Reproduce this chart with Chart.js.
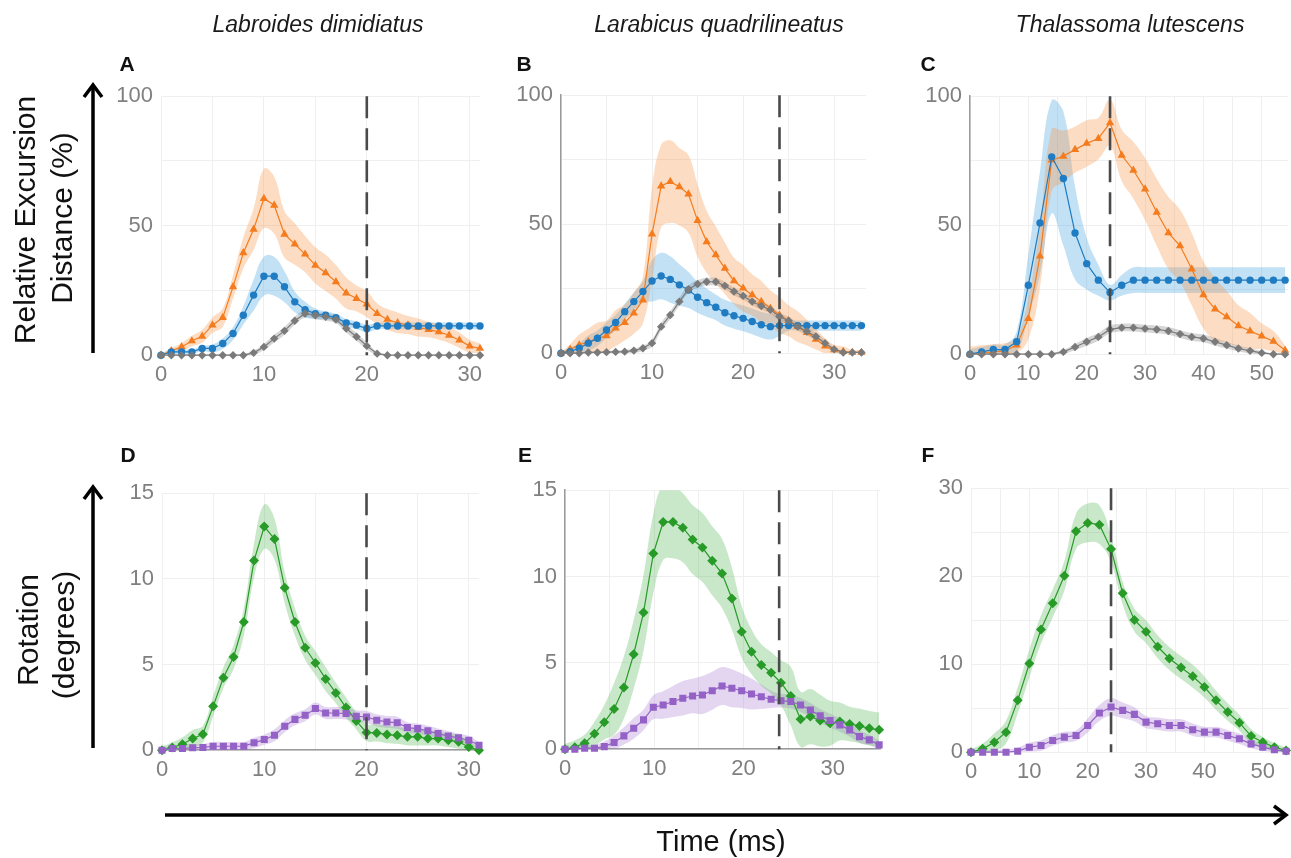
<!DOCTYPE html>
<html>
<head>
<meta charset="utf-8">
<title>Excursion et rotation</title>
<script src="https://cdn.jsdelivr.net/npm/chart.js@4.4.1/dist/chart.umd.min.js"></script>
<style>
body{margin:0;background:#fff}
#figure{position:relative;width:1291px;height:858px;overflow:hidden;background:#fff}
#figure canvas{position:absolute}
#annotations{position:absolute;left:0;top:0;font-family:"Liberation Sans",Arial,sans-serif}
</style>
</head>
<body>
<div id="figure">
  <canvas id="A"></canvas>
  <canvas id="B"></canvas>
  <canvas id="C"></canvas>
  <canvas id="D"></canvas>
  <canvas id="E"></canvas>
  <canvas id="F"></canvas>
  <svg id="annotations" width="1291" height="858">
    <g font-size="23" font-style="italic" fill="#1a1a1a" text-anchor="middle">
      <text x="318" y="32">Labroides dimidiatus</text>
      <text x="719" y="32">Larabicus quadrilineatus</text>
      <text x="1130" y="32">Thalassoma lutescens</text>
    </g>
    <g font-size="21" font-weight="bold" fill="#111" text-anchor="middle">
      <text x="127" y="71">A</text>
      <text x="524" y="71">B</text>
      <text x="928" y="71">C</text>
      <text x="128" y="462">D</text>
      <text x="525" y="462">E</text>
      <text x="928" y="462">F</text>
    </g>
    <g font-size="30" fill="#111" text-anchor="middle">
      <text transform="translate(35,220) rotate(-90)">Relative Excursion</text>
      <text transform="translate(72,218) rotate(-90)">Distance (%)</text>
      <text transform="translate(38,630) rotate(-90)">Rotation</text>
      <text transform="translate(74,635) rotate(-90)">(degrees)</text>
      <text x="721" y="851" font-size="29">Time (ms)</text>
    </g>
    <g stroke="#000" stroke-width="3.5" fill="none">
      <line x1="93" y1="353" x2="93" y2="85"/>
      <polyline points="84,97 93,85 102,97"/>
      <line x1="93" y1="748" x2="93" y2="487"/>
      <polyline points="84,499 93,487 102,499"/>
      <line x1="165" y1="815" x2="1286" y2="815"/>
      <polyline points="1274,806 1286,815 1274,824"/>
    </g>
  </svg>
</div>
<script>
// temps (ms)
const tempsA=[0,1,2,3,4,5,6,7,8,9,10,11,12,13,14,15,16,17,18,19,20,21,22,23,24,25,26,27,28,29,30,31]
const tempsB=[0,1,2,3,4,5,6,7,8,9,10,11,12,13,14,15,16,17,18,19,20,21,22,23,24,25,26,27,28,29,30,31,32,33]
const tempsC=[0,2,4,6,8,10,12,14,16,18,20,22,24,26,28,30,32,34,36,38,40,42,44,46,48,50,52,54]
const tempsD=tempsA
const tempsE=[0,1.1,2.2,3.3,4.4,5.5,6.6,7.7,8.8,9.9,11,12.1,13.2,14.3,15.4,16.5,17.6,18.7,19.8,20.9,22,23.1,24.2,25.3,26.4,27.5,28.6,29.7,30.8,31.9,33,34.1,35.2]
const tempsF=tempsC

// A - Labroides dimidiatus, excursion (%)
const orangeA=[0,1.7,3.2,5.5,7.3,11.6,14.5,26.4,39.5,48.6,60.5,57.9,46.7,42.9,39,34.7,31.8,28.3,24,21.9,19.7,16.1,13.8,12.5,11.6,10.7,9.9,9,7.7,5.8,3.5,2.6]
const orangeA_sd=[0.5,1,1.5,2,2.5,3,3.5,4.5,6,8,11.5,11,9,8,7,7,7,6.5,6,5,5,4,4,4,3.5,3.5,3,3,3,3,2.5,2]
const bleuA=[0,1.3,1.3,1.3,2.6,2.6,4.5,8.4,15.4,23.2,30.5,30.5,26.4,20.6,17.6,16,15.4,14.5,12.5,11.6,10.3,11.3,11.3,11.3,11.3,11.3,11.3,11.3,11.3,11.3,11.3,11.3]
const bleuA_sd=[0.5,1,1,1,1,1.5,2,2.5,3.5,6,7.5,7.5,6,4,3,2,1.5,1.5,1.5,1.5,1.5,1.3,1.3,1.3,1.3,1.3,1.3,1.3,1.3,1.3,1.3,1.3]
const grisA=[0,0,0,0,0,0,0,0,0,0.9,3.2,6.4,9.4,13.3,16.1,15.4,14.8,13.8,10.3,7.1,3.6,0.6,0,0,0,0,0,0,0,0,0,0]
const grisA_sd=[0.3,0.3,0.3,0.3,0.3,0.3,0.3,0.3,0.5,0.8,1.2,1.5,1.5,1.5,1.5,1.5,1.5,1.5,1.5,1.5,1.3,0.8,0.3,0.3,0.3,0.3,0.3,0.3,0.3,0.3,0.3,0.3]

// B - Larabicus quadrilineatus
const orangeB=[0,1.5,3.2,4.5,5.8,6.7,9.7,11.9,15.5,20.6,46.2,64.8,66.5,64.5,61.7,51.4,43.2,38.1,32.9,28,25.2,22.6,20,17.4,14.8,12.6,10.3,8,5.4,2.8,1.3,0.6,0.3,0.3]
const orangeB_sd=[0.5,2,4,5,6,6,7,7,8,9,18,16,16,15,15,14,12,11,10,9,9,8,8,7,7,6,6,5,4,3,2,2,1,1]
const bleuB=[0,0.6,1.9,3.9,5.8,9,11.9,16.1,20,23.9,28,29.9,28.6,26.5,24.5,21.7,19.6,17.8,15.7,14.5,13.5,12.3,11,10.3,10.7,10.7,10.7,10.7,10.7,10.7,10.7,10.7,10.7,10.7]
const bleuB_sd=[0.5,1.5,2,3,3,3,3,3,3.5,4,8,9,9,8,7,6,5.5,5,5,5,5,5,5,5,4,2,2,2,2,2,2,2,2,2]
const grisB=[0,0,0,0.3,0.3,0.4,0.5,0.6,1,1.9,3.9,10.3,14.8,20,24.8,26.8,27.7,27.7,26.1,23.9,22.2,20,18.3,16.8,14.2,12.6,10.3,8.4,6.5,3.9,1.5,0.3,0.3,0.3]
const grisB_sd=[0.3,0.3,0.3,0.4,0.4,0.5,0.5,0.6,0.8,1,1.3,1.5,1.5,1.5,1.5,1.5,1.5,1.5,1.5,1.5,1.5,1.5,1.5,1.5,1.5,1.5,1.5,1.5,1.5,1.3,1,0.5,0.3,0.3]

// C - Thalassoma lutescens
const orangeC=[0,0.5,0.9,1.3,3.5,13.8,38,75.2,76.7,79.3,81.7,83.6,89.7,77.1,71.3,64,55,47,42,33,23,17.5,14.5,11,9,7,5,1.5]
const orangeC_sd=[3,3,3,3,3,8,12,12,10,9,9,8,9,10,11,12,13,14,14,14,13,12,10,8,7,5,4,2]
const bleuC=[0,0.9,1.8,1.8,4.8,26.7,50.9,76.5,68.1,47,35.1,28.7,23.9,26.7,28.7,28.7,28.7,28.7,28.7,28.7,28.7,28.7,28.7,28.7,28.7,28.7,28.7,28.7]
const bleuC_sd=[2,2,2,2,4,12,20,22,26,18,10,6,3,4,5,5,5,5,5,5,5,5,5,5,5,5,5,5]
const grisC=[0,0,0,0,0,0,0,0,0.9,2.8,4.8,6.7,9.6,10.3,10.3,9.9,9.6,9,7.8,6.7,6.1,4.8,3.5,2.2,1.3,0.5,0,0]
const grisC_sd=[0.3,0.3,0.3,0.3,0.3,0.3,0.3,0.5,0.8,1.2,1.5,1.5,1.5,1.5,1.5,1.5,1.5,1.5,1.5,1.5,1.5,1.5,1.3,1.2,1,0.6,0.3,0.3]

// D - Labroides dimidiatus, rotation (degres)
const vertD=[0,0.16,0.35,0.68,0.93,2.56,4.23,5.44,7.48,11.07,13.05,12.33,9.48,7.48,5.98,5.09,4.16,3.34,2.49,1.71,1.03,1.01,0.91,0.87,0.78,0.78,0.68,0.68,0.58,0.49,0.19,0]
const vertD_sd=[0.2,0.3,0.4,0.5,0.5,0.6,0.6,0.7,0.8,1,1.3,1.2,0.9,0.8,0.7,0.7,0.7,0.6,0.6,0.5,0.5,0.5,0.5,0.5,0.5,0.5,0.4,0.4,0.4,0.4,0.3,0.2]
const violetD=[0,0.1,0.1,0.14,0.16,0.23,0.23,0.23,0.23,0.43,0.62,0.87,1.4,1.8,2.04,2.43,2.17,2.17,2.14,1.98,1.94,1.75,1.65,1.6,1.32,1.26,1.13,0.97,0.82,0.72,0.58,0.29]
const violetD_sd=[0.1,0.15,0.2,0.2,0.2,0.25,0.25,0.25,0.25,0.3,0.3,0.35,0.35,0.35,0.35,0.35,0.35,0.35,0.35,0.35,0.35,0.35,0.35,0.35,0.3,0.3,0.3,0.3,0.3,0.25,0.25,0.2]

// E - Larabicus quadrilineatus
const vertE=[0,0.12,0.35,0.89,1.56,2.33,3.58,5.5,7.91,11.33,13.16,13.16,12.83,12.14,11.68,10.91,10.17,8.73,6.8,5.65,4.88,4.43,3.85,3.08,1.73,1.89,1.66,1.5,1.6,1.46,1.35,1.21,1.12]
const vertE_sd=[0.3,0.4,0.5,0.7,1,1.5,1.8,2,2.2,2.3,2.2,2.1,2,2,2,2,2,1.8,1.5,1.3,1.2,1.2,1.3,1.7,1.6,1.6,1.5,1.3,1.1,1,1,1,1]
const violetE=[0,0,0.06,0.06,0.15,0.39,0.77,1.21,1.7,2.43,2.56,2.76,2.95,3.08,3.14,3.39,3.66,3.53,3.39,3.2,3.04,2.89,2.81,2.76,2.56,2.27,1.93,1.66,1.41,1.12,0.73,0.54,0.25]
const violetE_sd=[0.05,0.1,0.15,0.2,0.3,0.4,0.5,0.6,0.6,0.7,0.8,0.9,1,1,1.1,1.1,1.1,1.1,1,0.9,0.7,0.5,0.4,0.4,0.4,0.4,0.4,0.4,0.4,0.4,0.35,0.3,0.25]

// F - Thalassoma lutescens
const vertF=[0,0.38,1.14,2.28,5.89,10.08,13.95,16.92,20.04,25.1,26.05,25.86,23.08,18.06,15.02,13.69,11.98,10.65,9.62,8.63,7.41,5.89,4.56,3.35,1.83,1.14,0.57,0.19]
const vertF_sd=[0.3,0.6,1,1.3,1.5,1.6,1.6,1.6,1.7,2,2.2,2.2,1.5,1.3,1.3,1.3,1.3,1.3,1.3,1.3,1.2,1.1,1,0.9,0.8,0.6,0.5,0.3]
const violetF=[0,0,0,0,0.11,0.57,0.76,1.33,1.71,1.9,3.04,4.45,5.13,4.75,4.3,3.42,3.23,3.04,3.04,2.55,2.28,2.28,1.9,1.52,0.95,0.57,0.27,0.11]
const violetF_sd=[0.2,0.2,0.2,0.3,0.4,0.5,0.6,0.6,0.6,0.6,0.8,0.9,1,0.9,0.8,0.7,0.7,0.7,0.7,0.7,0.6,0.6,0.6,0.6,0.5,0.4,0.3,0.2]

// graduations
const etiquettesX_AB=[0,10,20,30]
const etiquettesX_C=[0,10,20,30,40,50]
const etiquettesY_haut=[0,50,100]
const etiquettesY_DE=[0,5,10,15]
const etiquettesY_F=[0,10,20,30]
const finAcces=[20,24,24,20,24,24]

const styles={
    orange:{couleur:"#f47c1e",bande:"rgba(247,150,70,0.33)",forme:"triangle",rayon:4.8},
    bleu:{couleur:"#1f7cc2",bande:"rgba(70,165,225,0.33)",forme:"circle",rayon:3.7},
    gris:{couleur:"#7a7a7a",bande:"rgba(130,130,130,0.33)",forme:"rectRot",rayon:4.2},
    vert:{couleur:"#279a27",bande:"rgba(75,180,75,0.3)",forme:"rectRot",rayon:5},
    violet:{couleur:"#9462c6",bande:"rgba(165,120,210,0.3)",forme:"rect",rayon:5}
}

const panneaux=[
    {id:"A",cadre:[161,96,480,355],xMax:31,yMax:100,grilleX:5,grilleY:25,etiqX:etiquettesX_AB,etiqY:etiquettesY_haut,bord:[false,false],
     series:[[tempsA,orangeA,orangeA_sd,"orange"],[tempsA,bleuA,bleuA_sd,"bleu"],[tempsA,grisA,grisA_sd,"gris"]]},
    {id:"B",cadre:[561,95,866,353],xMax:33.5,yMax:100,grilleX:5,grilleY:25,etiqX:etiquettesX_AB,etiqY:etiquettesY_haut,bord:[false,true],
     series:[[tempsB,orangeB,orangeB_sd,"orange"],[tempsB,bleuB,bleuB_sd,"bleu"],[tempsB,grisB,grisB_sd,"gris"]]},
    {id:"C",cadre:[970,96,1288,354],xMax:54.5,yMax:100,grilleX:5,grilleY:25,etiqX:etiquettesX_C,etiqY:etiquettesY_haut,bord:[false,true],
     series:[[tempsC,orangeC,orangeC_sd,"orange"],[tempsC,bleuC,bleuC_sd,"bleu"],[tempsC,grisC,grisC_sd,"gris"]]},
    {id:"D",cadre:[162,493,479,750],xMax:31,yMax:15,grilleX:5,grilleY:5,etiqX:etiquettesX_AB,etiqY:etiquettesY_DE,bord:[true,false],
     series:[[tempsD,vertD,vertD_sd,"vert"],[tempsD,violetD,violetD_sd,"violet"]]},
    {id:"E",cadre:[565,490,880,749],xMax:35.3,yMax:15,grilleX:5,grilleY:5,etiqX:etiquettesX_AB,etiqY:etiquettesY_DE,bord:[true,true],
     series:[[tempsE,vertE,vertE_sd,"vert"],[tempsE,violetE,violetE_sd,"violet"]]},
    {id:"F",cadre:[971,488,1289,752],xMax:54.5,yMax:30,grilleX:5,grilleY:5,etiqX:etiquettesX_C,etiqY:etiquettesY_F,bord:[false,false],
     series:[[tempsF,vertF,vertF_sd,"vert"],[tempsF,violetF,violetF_sd,"violet"]]}
]

const ligneVerticale={
    id:"ligneVerticale",
    afterDatasetsDraw(chart,args,opts){
        const ctx=chart.ctx
        const zone=chart.chartArea
        const x=chart.scales.x.getPixelForValue(opts.x)
        ctx.save()
        ctx.strokeStyle="#4a4a4a"
        ctx.lineWidth=2.6
        ctx.setLineDash([22,10])
        ctx.beginPath()
        ctx.moveTo(x,zone.top)
        ctx.lineTo(x,zone.bottom)
        ctx.stroke()
        ctx.restore()
    }
}

function construireJeux(series){
    const jeux=[]
    series.forEach(function(s,k){
        const t=s[0],moy=s[1],sd=s[2],st=styles[s[3]]
        jeux.push({
            data:moy.map((v,i)=>({x:t[i],y:v+sd[i]})),
            borderWidth:0,pointRadius:0,tension:0.4,
            backgroundColor:st.bande,fill:"+1",order:10
        })
        jeux.push({
            data:moy.map((v,i)=>({x:t[i],y:Math.max(0,v-sd[i])})),
            borderWidth:0,pointRadius:0,tension:0.4,fill:false,order:10
        })
        jeux.push({
            data:moy.map((v,i)=>({x:t[i],y:v})),
            borderColor:st.couleur,borderWidth:1.2,tension:0,fill:false,
            pointStyle:st.forme,pointRadius:st.rayon,
            pointBackgroundColor:st.couleur,pointBorderWidth:0,
            clip:8,order:-k
        })
    })
    return jeux
}

const police={family:"'Liberation Sans', Arial, sans-serif",size:22}

panneaux.forEach(function(p,n){
    const [L,T,R,B]=p.cadre
    const canvas=document.getElementById(p.id)
    canvas.width=55+(R-L)+12
    canvas.height=15+(B-T)+40

    const graphique=new Chart(canvas,{
        type:"line",
        data:{datasets:construireJeux(p.series)},
        options:{
            responsive:false,
            maintainAspectRatio:false,
            animation:false,
            layout:{padding:{top:15,right:12,left:0,bottom:0}},
            plugins:{legend:{display:false},tooltip:{enabled:false},ligneVerticale:{x:finAcces[n]}},
            scales:{
                x:{
                    type:"linear",min:0,max:p.xMax,
                    afterBuildTicks:function(axe){
                        const tk=[]
                        for(let v=0;v<=p.xMax;v+=p.grilleX) tk.push({value:v})
                        axe.ticks=tk
                    },
                    afterFit:function(axe){axe.height=40},
                    grid:{color:"#efefef",drawTicks:false},
                    border:{display:p.bord[0],color:"#9a9a9a",width:1.5},
                    ticks:{color:"#808080",font:police,padding:7,maxRotation:0,autoSkip:false,
                        callback:v=>p.etiqX.includes(v)?String(v):""}
                },
                y:{
                    min:0,max:p.yMax,
                    afterBuildTicks:function(axe){
                        const tk=[]
                        for(let v=0;v<=p.yMax;v+=p.grilleY) tk.push({value:v})
                        axe.ticks=tk
                    },
                    afterFit:function(axe){axe.width=55},
                    grid:{color:"#efefef",drawTicks:false},
                    border:{display:p.bord[1],color:"#9a9a9a",width:1.5},
                    ticks:{color:"#808080",font:police,padding:8,autoSkip:false,
                        callback:v=>p.etiqY.includes(v)?String(v):""}
                }
            }
        },
        plugins:[ligneVerticale]
    })

    // recaler la zone de tracé sur le cadre voulu
    let zone=graphique.chartArea
    const dw=(R-L)-(zone.right-zone.left)
    const dh=(B-T)-(zone.bottom-zone.top)
    if(dw||dh){
        graphique.resize(canvas.width+dw,canvas.height+dh)
        zone=graphique.chartArea
    }
    canvas.style.left=(L-zone.left)+"px"
    canvas.style.top=(T-zone.top)+"px"
})
</script>
</body>
</html>
